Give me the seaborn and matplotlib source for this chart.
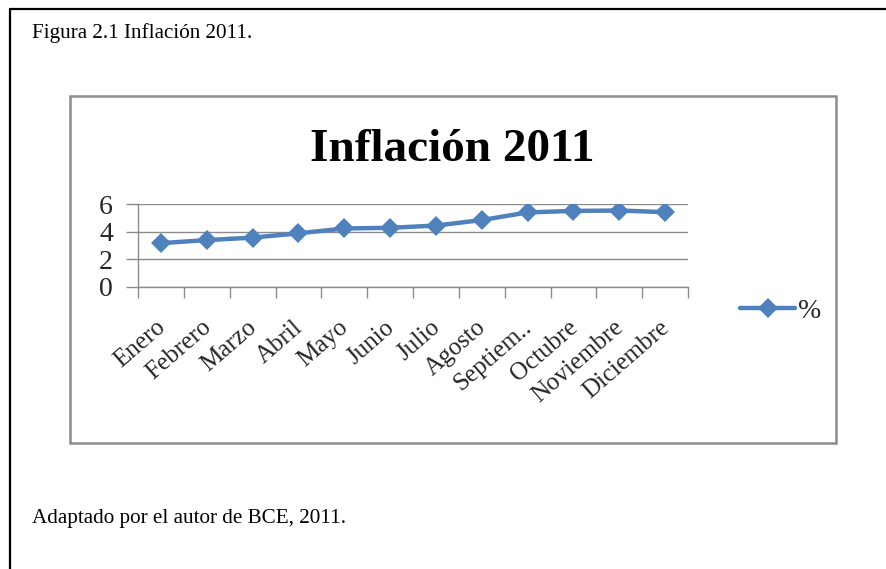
import matplotlib
matplotlib.use("Agg")
import matplotlib.pyplot as plt
import seaborn as sns
import pandas as pd
from matplotlib.patches import Rectangle
from matplotlib.lines import Line2D

# Monthly inflation, Ecuador 2011 (%)
meses = ["Enero", "Febrero", "Marzo", "Abril", "Mayo", "Junio", "Julio",
         "Agosto", "Septiem..", "Octubre", "Noviembre", "Diciembre"]
inflacion = [3.17, 3.39, 3.57, 3.88, 4.23, 4.28, 4.44, 4.84, 5.39, 5.50, 5.53, 5.41]
y_ticks = [0, 2, 4, 6]

sns.set_theme(style="white")
plt.rcParams["font.family"] = ["Liberation Serif", "DejaVu Serif"]

W, H = 886, 569
fig = plt.figure(figsize=(W / 100, H / 100), dpi=100)


def fx(px):
    return px / W


def fy(py):
    return 1 - py / H


# page frame (top and left rules)
fig.add_artist(Line2D([fx(10), fx(10)], [fy(9), 0], color="black", lw=1.6))
fig.add_artist(Line2D([fx(10), 1], [fy(9), fy(9)], color="black", lw=1.6))

fig.text(fx(32), fy(33), "Figura 2.1 Inflación 2011.", fontsize=15.2,
         ha="left", va="center", color="black")
fig.text(fx(32), fy(518), "Adaptado por el autor de BCE, 2011.", fontsize=15.2,
         ha="left", va="center", color="black")

# chart frame
fig.add_artist(Rectangle((fx(70), fy(443)), fx(836) - fx(70), fy(96) - fy(443),
                         transform=fig.transFigure, fill=False,
                         edgecolor="#8c8c8c", lw=1.8))

fig.text(fx(452), fy(150), "Inflación 2011", fontsize=34, fontweight="bold",
         ha="center", va="center", color="black")

ax = fig.add_axes([fx(138), fy(287), fx(688) - fx(138), fy(204) - fy(287)])

df = pd.DataFrame({"mes": range(len(meses)), "valor": inflacion})
sns.lineplot(data=df, x="mes", y="valor", ax=ax, color="#4F81BD",
             linewidth=3.2, marker="D", markersize=10, markeredgewidth=0,
             label="%")

ax.set_xlim(-0.5, len(meses) - 0.5)
ax.set_ylim(0, 6)
ax.set_yticks(y_ticks)
ax.set_yticklabels([str(v) for v in y_ticks], fontsize=20)
ax.yaxis.grid(True, color="#8c8c8c", lw=1.0)
ax.set_axisbelow(True)
ax.tick_params(axis="y", length=9, width=1.0, color="#8c8c8c", pad=9,
               direction="out", left=True)

# category labels: anchored slightly left of each category centre
ax.set_xticks([i - 0.13 for i in range(len(meses))])
ax.set_xticklabels(meses, rotation=41, ha="right", va="top",
                   rotation_mode="anchor", fontsize=18)
ax.set_xticks([i - 0.5 for i in range(len(meses) + 1)], minor=True)
ax.tick_params(axis="x", which="major", length=0, pad=21)
ax.tick_params(axis="x", which="minor", length=8, width=1.0,
               color="#8c8c8c", direction="out", bottom=True)
ax.set_xlabel("")
ax.set_ylabel("")

for side in ["top", "right"]:
    ax.spines[side].set_visible(False)
for side in ["left", "bottom"]:
    ax.spines[side].set_color("#8c8c8c")
    ax.spines[side].set_linewidth(1.0)

leg = ax.legend(loc="center left", bbox_to_anchor=(fx(726), fy(311)),
                bbox_transform=fig.transFigure, frameon=False, fontsize=20,
                handlelength=2.0, handletextpad=0.1, borderpad=0)

fig.savefig("out.png", dpi=100, facecolor="white")
